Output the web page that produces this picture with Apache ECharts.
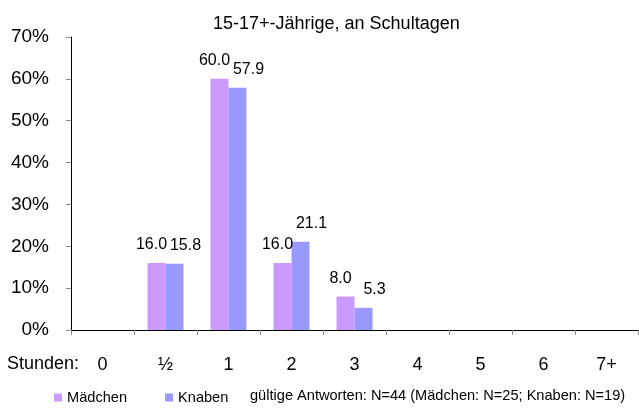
<!DOCTYPE html>
<html><head><meta charset="utf-8">
<script src="https://cdn.jsdelivr.net/npm/echarts@6/dist/echarts.min.js"></script>
<style>html,body{margin:0;padding:0;background:#fff}#c{width:639px;height:408px}</style>
</head><body><div id="c"></div>
<script>
const categories = ['0', '½', '1', '2', '3', '4', '5', '6', '7+'];
const maedchen = [0, 16.0, 60.0, 16.0, 8.0, 0, 0, 0, 0];
const knaben = [0, 15.8, 57.9, 21.1, 5.3, 0, 0, 0, 0];
const yTicks = [0, 10, 20, 30, 40, 50, 60, 70];
const titleText = '15-17+-Jährige, an Schultagen';
const noteText = 'gültige Antworten: N=44 (Mädchen: N=25; Knaben: N=19)';
const F = '"Liberation Sans", Arial, sans-serif';
const chart = echarts.init(document.getElementById('c'), null, {renderer: 'canvas'});
const lbl = (off) => ({
  show: true, position: 'top', distance: 10, offset: off,
  fontFamily: F, fontSize: 16, color: '#000',
  formatter: p => p.value ? p.value.toFixed(1) : ''
});
chart.setOption({
  animation: false,
  textStyle: {fontFamily: F},
  title: {text: titleText, left: 208, top: 10, textStyle: {fontFamily: F, fontSize: 18, fontWeight: 'normal', color: '#000'}},
  grid: {left: 71, right: 1, top: 37, bottom: 78, containLabel: false},
  legend: {
    data: ['Mädchen', 'Knaben'], left: 49, top: 385, itemWidth: 8, itemHeight: 8, itemGap: 38,
    icon: 'rect', textStyle: {fontFamily: F, fontSize: 14.6, color: '#000'}
  },
  xAxis: {
    type: 'category', data: categories,
    axisLine: {lineStyle: {color: '#000', width: 1}},
    axisTick: {show: true, length: 5, lineStyle: {color: '#888'}},
    axisLabel: {fontFamily: F, fontSize: 18, color: '#000', margin: 26}
  },
  yAxis: {
    type: 'value', min: 0, max: 70, interval: 10,
    axisLine: {show: true, lineStyle: {color: '#000', width: 1}},
    axisTick: {show: true, length: 5, lineStyle: {color: '#888'}},
    splitLine: {show: false},
    axisLabel: {fontFamily: F, fontSize: 19, color: '#000', margin: 22,
      formatter: v => yTicks.includes(v) ? v + '%' : ''}
  },
  series: [
    {name: 'Mädchen', type: 'bar', data: maedchen, barWidth: 18, barGap: '0%',
     itemStyle: {color: '#CC99FF'}, label: lbl([-5, 0])},
    {name: 'Knaben', type: 'bar', data: knaben, barWidth: 18,
     itemStyle: {color: '#9999FF'}, label: lbl([11, 0])}
  ],
  graphic: [
    {type: 'text', left: 7, top: 355, style: {text: 'Stunden:', font: '18px ' + F, fill: '#000'}},
    {type: 'text', left: 250, top: 388, style: {text: noteText, font: '14.6px ' + F, fill: '#000'}}
  ]
});
</script></body></html>
